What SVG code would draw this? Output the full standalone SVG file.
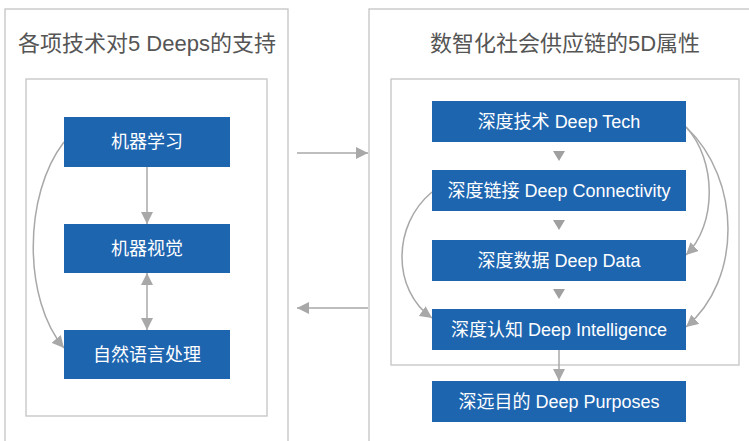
<svg xmlns="http://www.w3.org/2000/svg" width="749" height="441" viewBox="0 0 749 441">
<style>
.panel{fill:#fff;stroke:#c4c4c4;stroke-width:1.3}
.inner{fill:#fff;stroke:#c4c4c4;stroke-width:1.3}
.node rect{fill:#1e65b0}
.node text{fill:#fff;font-family:"Liberation Sans","Noto Sans CJK SC",sans-serif;font-size:18px;text-anchor:middle}
.title{fill:#555;font-family:"Liberation Sans","Noto Sans CJK SC",sans-serif;font-size:22px;text-anchor:middle}
.conn{fill:none;stroke:#a8a8a8;stroke-width:1.5}
.tri{fill:#a0a0a0}
</style>
<defs>
<marker id="ah" markerUnits="userSpaceOnUse" markerWidth="12" markerHeight="12" viewBox="0 0 12 12" refX="12" refY="6" orient="auto-start-reverse">
<path d="M0,0 L12,6 L0,12 z" fill="#a8a8a8"/>
</marker>
</defs>
<g id="panels">
<rect class="panel" x="5" y="9" width="283" height="440"/>
<rect class="inner" x="26" y="79" width="241" height="337"/>
<text class="title" x="147" y="51">各项技术对5 Deeps的支持</text>
<rect class="panel" x="369" y="9" width="390" height="440"/>
<rect class="inner" x="391" y="79" width="348" height="286"/>
<text class="title" x="565" y="51">数智化社会供应链的5D属性</text>
</g>
<g id="connectors">
<line class="conn" x1="147" y1="167" x2="147" y2="224" marker-end="url(#ah)"/>
<line class="conn" x1="147" y1="273" x2="147" y2="330" marker-start="url(#ah)" marker-end="url(#ah)"/>
<path class="conn" d="M64,142 C23,195 23,300 64,348" marker-end="url(#ah)"/>
<line class="conn" x1="297" y1="153" x2="368" y2="153" marker-end="url(#ah)"/>
<line class="conn" x1="368" y1="308" x2="297" y2="308" marker-end="url(#ah)"/>
<polygon class="tri" points="553,151 565,151 559,161"/>
<polygon class="tri" points="553,220 565,220 559,230"/>
<polygon class="tri" points="553,289 565,289 559,299"/>
<line class="conn" x1="559" y1="350" x2="559" y2="381" marker-end="url(#ah)"/>
<path class="conn" d="M686,127 C717,160 717,225 686,255" marker-end="url(#ah)"/>
<path class="conn" d="M686,127 C742,180 742,280 686,327" marker-end="url(#ah)"/>
<path class="conn" d="M432,192 C392,225 392,290 432,318" marker-end="url(#ah)"/>
</g>
<g id="n-ml" class="node"><rect x="64" y="117" width="166" height="50"/><text x="147" y="148">机器学习</text></g>
<g id="n-cv" class="node"><rect x="64" y="224" width="166" height="49"/><text x="147" y="255">机器视觉</text></g>
<g id="n-nlp" class="node"><rect x="64" y="330" width="166" height="49"/><text x="147" y="361">自然语言处理</text></g>
<g id="n-tech" class="node"><rect x="432" y="101" width="254" height="41"/><text x="559" y="128">深度技术 Deep Tech</text></g>
<g id="n-conn" class="node"><rect x="432" y="170" width="254" height="41"/><text x="559" y="197">深度链接 Deep Connectivity</text></g>
<g id="n-data" class="node"><rect x="432" y="240" width="254" height="41"/><text x="559" y="267">深度数据 Deep Data</text></g>
<g id="n-intel" class="node"><rect x="432" y="309" width="254" height="41"/><text x="559" y="336">深度认知 Deep Intelligence</text></g>
<g id="n-purp" class="node"><rect x="432" y="381" width="254" height="41"/><text x="559" y="408">深远目的 Deep Purposes</text></g>
</svg>
